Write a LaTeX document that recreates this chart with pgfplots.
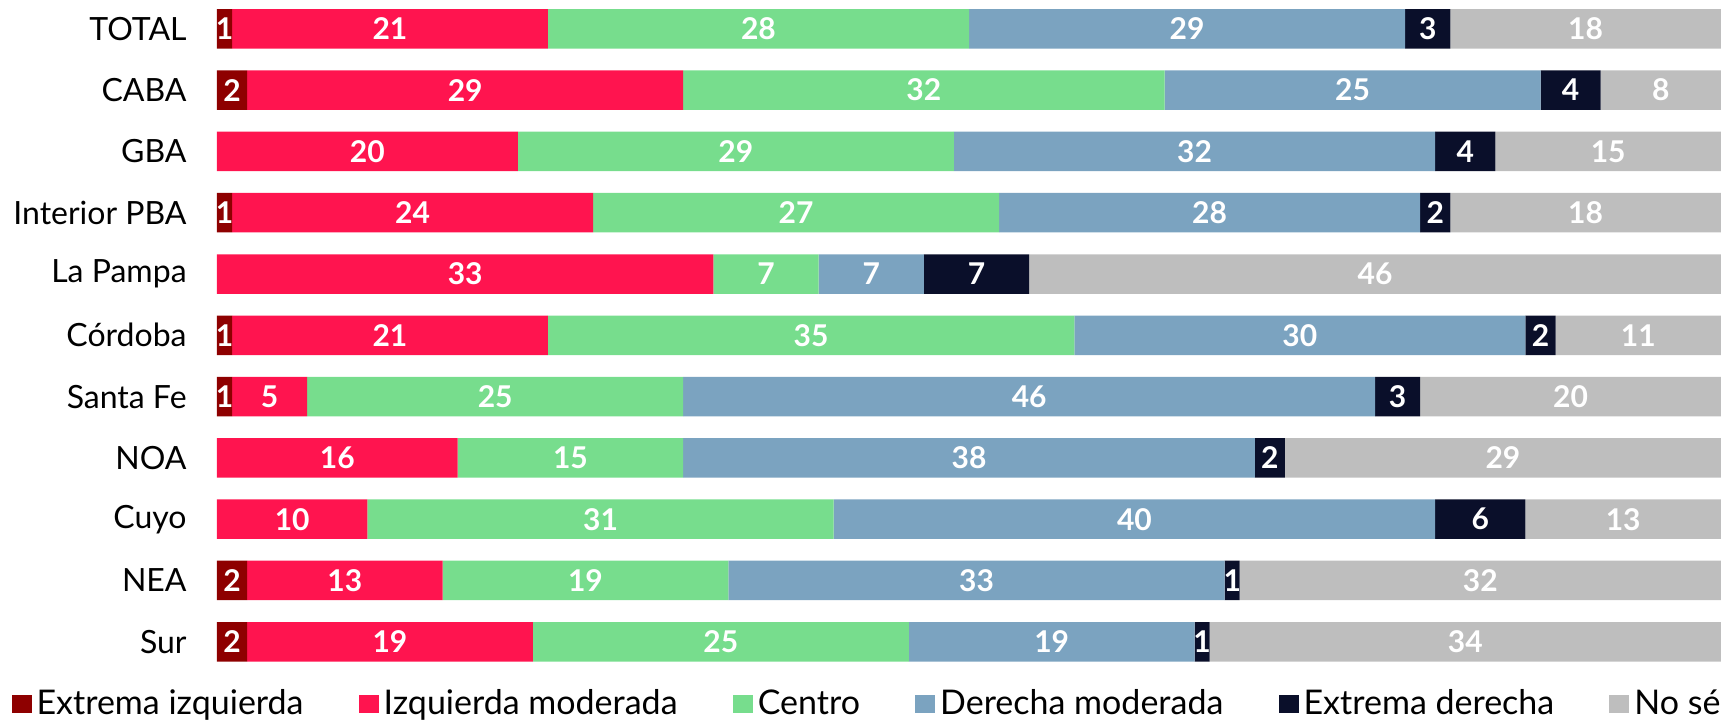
\documentclass[border=0pt]{standalone}
\usepackage{fontspec}
\setmainfont{Lato}
\usepackage{pgfplots}
\pgfplotsset{compat=1.18}
\usepackage{pgfplotstable}
\definecolor{cEI}{HTML}{8E0000}
\definecolor{cIM}{HTML}{FF144F}
\definecolor{cC}{HTML}{77DD8D}
\definecolor{cDM}{HTML}{7BA3C0}
\definecolor{cED}{HTML}{0A0F2A}
\definecolor{cNS}{HTML}{BEBEBE}
\pgfplotstableread{
y ei im c dm ed ns
0 1 21 28 29 3 18
1 2 29 32 25 4 8
2 0 20 29 32 4 15
3 1 24 27 28 2 18
4 0 33 7 7 7 46
5 1 21 35 30 2 11
6 1 5 25 46 3 20
7 0 16 15 38 2 29
8 0 10 31 40 6 13
9 2 13 19 33 1 32
10 2 19 25 19 1 34
}\data
\begin{document}
\begin{tikzpicture}
\path[use as bounding box] (0,0) rectangle (860.5pt,360pt);
\begin{axis}[
 at={(108.5pt,29pt)}, anchor=south west,
 scale only axis, width=752pt, height=326.7pt,
 xbar stacked, bar width=19.75pt,
 xmin=0, xmax=100, ymin=-0.33, ymax=10.33, y dir=reverse,
 ytick={0,...,10},
 yticklabels={TOTAL,CABA,GBA,Interior PBA,La Pampa,Córdoba,Santa Fe,NOA,Cuyo,NEA,Sur},
 xtick=\empty,
 axis line style={draw=none}, major tick length=0pt,
 yticklabel style={font=\fontsize{16}{19}\selectfont, inner sep=0pt, xshift=-15pt},
 clip=false,
 point meta=explicit,
 nodes near coords={\ifdim\vv pt>0pt\pgfmathprintnumber[assume math mode=true,fixed,precision=0]{\vv}\fi},
 every node near coord/.append style={anchor=center, font=\bfseries\fontsize{15}{18}\selectfont, text=white},
 legend columns=6,
 legend style={at={(-0.1366,-0.0637)}, anchor=west, draw=none, fill=none, inner sep=0pt, outer sep=0pt,
   font=\fontsize{17}{20}\selectfont,
   nodes={inner sep=0pt},
   /tikz/every odd column/.style={column sep=2.5pt},
   /tikz/every even column/.style={column sep=27.6pt}},
 legend image code/.code={\fill[#1] (0pt,-4.5pt) rectangle (10pt,4.5pt);},
]
\addplot[fill=cEI, draw=none, visualization depends on={\thisrow{ei}\as\vv}] table[x=ei,y=y,meta=ei]{\data};
\addplot[fill=cIM, draw=none, visualization depends on={\thisrow{im}\as\vv}] table[x=im,y=y,meta=im]{\data};
\addplot[fill=cC, draw=none, visualization depends on={\thisrow{c}\as\vv}] table[x=c,y=y,meta=c]{\data};
\addplot[fill=cDM, draw=none, visualization depends on={\thisrow{dm}\as\vv}] table[x=dm,y=y,meta=dm]{\data};
\addplot[fill=cED, draw=none, visualization depends on={\thisrow{ed}\as\vv}] table[x=ed,y=y,meta=ed]{\data};
\addplot[fill=cNS, draw=none, visualization depends on={\thisrow{ns}\as\vv}] table[x=ns,y=y,meta=ns]{\data};
\legend{Extrema izquierda,Izquierda moderada,Centro,Derecha moderada,Extrema derecha,No sé}
\end{axis}
\end{tikzpicture}
\end{document}
